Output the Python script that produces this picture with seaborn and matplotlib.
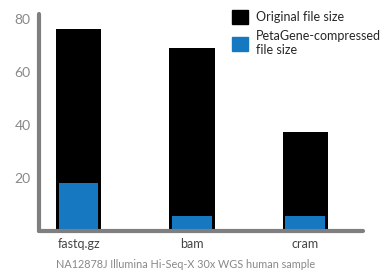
import numpy as np
import pandas as pd
import seaborn as sns
import matplotlib.pyplot as plt
from matplotlib.patches import Patch

formats = ['fastq.gz', 'bam', 'cram']
original = [76.5, 69, 37.5]
compressed = [18, 5.7, 5.7]

df = pd.DataFrame({'format': formats, 'original': original, 'compressed': compressed})

sns.set_style('white')
plt.rcParams['font.family'] = ['Lato', 'DejaVu Sans']

fig = plt.figure(figsize=(3.92, 2.72), dpi=100)
ax = fig.add_axes([39/392, 41/272, 324/392, 217/272])

sns.barplot(data=df, x='format', y='original', color='black', width=0.4,
            saturation=1, linewidth=0, ax=ax)
sns.barplot(data=df, x='format', y='compressed', color='#1778c2', width=0.35,
            saturation=1, linewidth=0, ax=ax)

ax.set_xlim(-0.35, 2.51)
ax.set_ylim(0, 82)
ax.set_yticks([20, 40, 60, 80])
ax.set_xlabel('')
ax.set_ylabel('')
ax.tick_params(axis='both', length=0, labelsize=9)
ax.tick_params(axis='y', labelcolor='#888888', labelsize=10, pad=6)
ax.tick_params(axis='x', labelcolor='#444444', pad=5)
for s in ['top', 'right']:
    ax.spines[s].set_visible(False)
for s in ['left', 'bottom']:
    ax.spines[s].set_color('#7f7f7f')
    ax.spines[s].set_linewidth(3)
    ax.spines[s].set_capstyle('round')

handles = [Patch(color='black', label='Original file size'),
           Patch(color='#1778c2', label='PetaGene-compressed\nfile size')]
ax.legend(handles=handles, loc='upper left', bbox_to_anchor=(0.58, 1.04), frameon=False,
          fontsize=9, handlelength=1.3, handleheight=1.3, handletextpad=0.6,
          labelspacing=0.5, borderaxespad=0)

fig.text(186/392, 1 - 265/272, 'NA12878J Illumina Hi-Seq-X 30x WGS human sample',
         ha='center', va='center', fontsize=7.8, color='#888888')

fig.savefig('out.png', dpi=100)
